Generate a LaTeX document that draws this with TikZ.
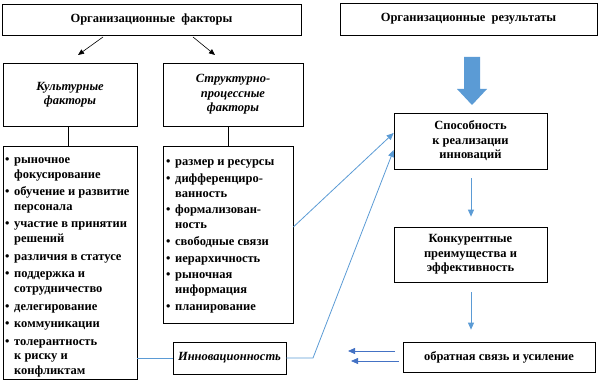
\documentclass[tikz,border=0pt]{standalone}
\usepackage{fontspec}
\setmainfont{Liberation Serif}
\usetikzlibrary{arrows.meta,calc}
\definecolor{lblue}{HTML}{5B9BD5}
\definecolor{dblue}{HTML}{4472C4}
\newcommand{\lbul}{\makebox[9pt][l]{•}}
\newcommand{\lind}{\hspace*{9pt}}
\begin{document}
\begin{tikzpicture}[x=1pt,y=-1pt,
  box/.style={draw=black, line width=0.7pt, inner sep=0pt, align=center,
    font=\fontsize{12.5}{14.5}\selectfont\bfseries},
  ibox/.style={box, font=\fontsize{12.5}{14.5}\selectfont\bfseries\itshape},
  listtext/.style={inner sep=0pt, align=left, anchor=north west,
    font=\fontsize{12.5}{14.5}\selectfont\bfseries},
  blk/.style={draw=black, line width=0.6pt, -{Triangle[length=6pt,width=5pt]}},
  plainline/.style={draw=black, line width=0.6pt},
  bline/.style={draw=lblue, line width=0.8pt},
  barrow/.style={draw=lblue, line width=0.8pt, -{Triangle[length=7pt,width=6pt]}},
  darrow/.style={draw=dblue, line width=0.8pt, -{Triangle[length=7pt,width=6pt]}}]
\useasboundingbox (0,0) rectangle (600,382);

% boxes
\node[box, minimum width=299, minimum height=31] (orgf) at (151.5,19.5) {Организационные\ \ факторы};
\node[box, minimum width=257, minimum height=32] (orgr) at (468.5,19) {Организационные\ \ результаты};
\node[ibox, minimum width=134, minimum height=63] (cult) at (70,94.5) {Культурные\\факторы};
\node[ibox, minimum width=140, minimum height=63] (struct) at (233,94.5) {Структурно-\\процессные\\факторы};
\node[box, minimum width=134, minimum height=233] (cultlist) at (70,262.5) {};
\node[box, minimum width=130, minimum height=177] (structlist) at (228,234.5) {};
\node[ibox, minimum width=113, minimum height=32] (innov) at (229.5,358) {Инновационность};
\node[box, minimum width=153, minimum height=56] (spos) at (470.5,141) {Способность\\к реализации\\инноваций};
\node[box, minimum width=153, minimum height=55] (konk) at (470.5,254.5) {Конкурентные\\преимущества и\\эффективность};
\node[box, minimum width=192, minimum height=30] (obr) at (499,357) {обратная связь и усиление};

% list texts
\node[listtext] (cultt) at (5,153.2) {\strut\lbul рыночное\\
\lind фокусирование\\[3.2pt]
\lbul обучение и развитие\\
\lind персонала\\[3.2pt]
\lbul участие в принятии\\
\lind решений\\[3.2pt]
\lbul различия в статусе\\[3.2pt]
\lbul поддержка и\\
\lind сотрудничество\\[3.2pt]
\lbul делегирование\\[3.2pt]
\lbul коммуникации\\[3.2pt]
\lbul толерантность\\
\lind к риску и\\
\lind конфликтам};
\node[listtext] (structt) at (166,155.5) {\strut\lbul размер и ресурсы\\[2.3pt]
\lbul дифференциро-\\
\lind ванность\\[2.3pt]
\lbul формализован-\\
\lind ность\\[2.3pt]
\lbul свободные связи\\[2.3pt]
\lbul иерархичность\\[2.3pt]
\lbul рыночная\\
\lind информация\\[2.3pt]
\lbul планирование};

% black connectors
\coordinate (a1s) at (103,37);
\coordinate (a1e) at (78,55);
\coordinate (a2s) at (193,37);
\coordinate (a2e) at (215,55);
\draw[blk] (a1s) -- (a1e);
\draw[blk] (a2s) -- (a2e);
\draw[plainline] (cultlist.north -| 68,0) -- (cult.south -| 68,0);
\draw[plainline] (structlist.north) -- (structlist.north |- struct.south);

% big block arrow
\fill[lblue] (464,57) -- (480,57) -- (480,89) -- (487,89) -- (472,105) -- (457,89) -- (464,89) -- cycle;

% blue connectors
\coordinate (bend) at (313,358);
\draw[bline] (cultlist.east |- innov.west) -- (innov.west);
\draw[barrow] (innov.east) -- (bend) -- ($(spos.west)+(0,9)$);
\draw[barrow] ($(structlist.east)+(0,-7.5)$) -- ($(spos.west)+(0,-8)$);
\draw[barrow] ($(spos.south)+(0.5,9)$) -- ($(konk.north)+(0.5,-10)$);
\draw[barrow] ($(konk.south)+(0.5,10)$) -- ($(obr.north -| konk.south)+(0.5,-12)$);
\coordinate (f1s) at (395,351);
\coordinate (f1e) at (348,351);
\coordinate (f2s) at (399,361);
\coordinate (f2e) at (351,361);
\draw[darrow] (f1s) -- (f1e);
\draw[darrow] (f2s) -- (f2e);
\end{tikzpicture}
\end{document}
